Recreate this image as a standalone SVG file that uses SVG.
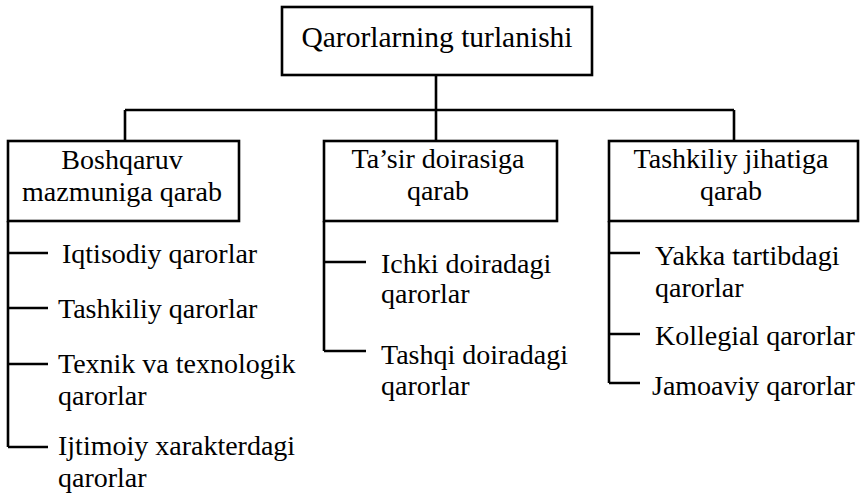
<svg xmlns="http://www.w3.org/2000/svg" width="863" height="498" viewBox="0 0 863 498">
<style>
.box{fill:#fff;stroke:#000;stroke-width:2.6}
.ln{fill:none;stroke:#000;stroke-width:2.6}
</style>
<rect width="863" height="498" fill="#fff"/>
<g id="connectors">
<path class="ln" d="M436 75V110M125 110H734M125 110V141M436 110V141M734 110V141"/>
<path class="ln" d="M8 221V447M8 253H48M8 308H48M8 364H48M8 447H48"/>
<path class="ln" d="M324 221V351M324 262H366M324 351H366"/>
<path class="ln" d="M609 221V383M609 253H640M609 334H640M609 383H640"/>
</g>
<g id="root">
<rect class="box" x="282" y="7" width="310" height="68"/>
<text x="437" y="47" text-anchor="middle" font-family="Liberation Serif" font-size="29.5">Qarorlarning turlanishi</text>
</g>
<g id="n1">
<rect class="box" x="8" y="141" width="231" height="80"/>
<text x="122" y="169" text-anchor="middle" font-family="Liberation Serif" font-size="28">Boshqaruv</text>
<text x="122" y="201" text-anchor="middle" font-family="Liberation Serif" font-size="28">mazmuniga qarab</text>
</g>
<g id="n2">
<rect class="box" x="324" y="141" width="233" height="80"/>
<text x="438" y="168" text-anchor="middle" font-family="Liberation Serif" font-size="28">Ta’sir doirasiga</text>
<text x="438" y="200" text-anchor="middle" font-family="Liberation Serif" font-size="28">qarab</text>
</g>
<g id="n3">
<rect class="box" x="609" y="141" width="249" height="80"/>
<text x="731" y="168" text-anchor="middle" font-family="Liberation Serif" font-size="28">Tashkiliy jihatiga</text>
<text x="731" y="200" text-anchor="middle" font-family="Liberation Serif" font-size="28">qarab</text>
</g>
<g id="l1a"><text x="62" y="263" font-family="Liberation Serif" font-size="28">Iqtisodiy qarorlar</text></g>
<g id="l1b"><text x="58" y="318" font-family="Liberation Serif" font-size="28">Tashkiliy qarorlar</text></g>
<g id="l1c"><text x="58" y="373" font-family="Liberation Serif" font-size="28">Texnik va texnologik</text><text x="58" y="405" font-family="Liberation Serif" font-size="28">qarorlar</text></g>
<g id="l1d"><text x="58" y="455" font-family="Liberation Serif" font-size="28">Ijtimoiy xarakterdagi</text><text x="58" y="487" font-family="Liberation Serif" font-size="28">qarorlar</text></g>
<g id="l2a"><text x="381" y="273" font-family="Liberation Serif" font-size="28">Ichki doiradagi</text><text x="381" y="303" font-family="Liberation Serif" font-size="28">qarorlar</text></g>
<g id="l2b"><text x="381" y="364" font-family="Liberation Serif" font-size="28">Tashqi doiradagi</text><text x="381" y="395" font-family="Liberation Serif" font-size="28">qarorlar</text></g>
<g id="l3a"><text x="655" y="265" font-family="Liberation Serif" font-size="28">Yakka tartibdagi</text><text x="655" y="297" font-family="Liberation Serif" font-size="28">qarorlar</text></g>
<g id="l3b"><text x="655" y="345" font-family="Liberation Serif" font-size="28">Kollegial qarorlar</text></g>
<g id="l3c"><text x="652" y="395" font-family="Liberation Serif" font-size="28">Jamoaviy qarorlar</text></g>
</svg>
